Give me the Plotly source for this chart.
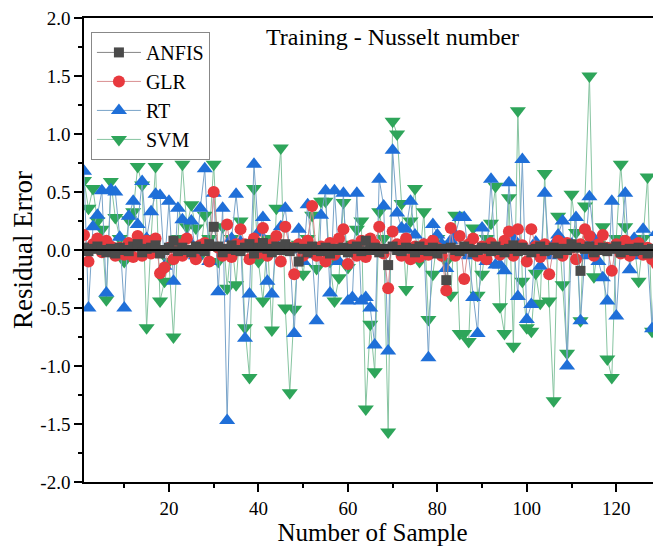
import plotly.graph_objects as go

samples = list(range(1, 131))

anfis = [
    0.02, -0.01, 0.01, 0.03, 0.00, -0.02, 0.01, -0.03, 0.02, 0.00,
    -0.01, 0.03, 0.05, -0.02, 0.01, 0.02, 0.04, -0.03, 0.00, 0.02,
    0.08, -0.01, 0.02, 0.00, -0.02, 0.03, 0.01, -0.01, 0.05, 0.20,
    0.03, -0.02, 0.01, 0.04, 0.00, -0.01, 0.02, 0.05, -0.03, 0.02,
    0.06, 0.01, -0.02, 0.03, 0.00, 0.05, -0.01, 0.02, -0.10, 0.01,
    -0.02, 0.03, 0.00, -0.01, 0.02, -0.03, 0.01, 0.00, 0.02, -0.02,
    0.01, 0.03, -0.01, 0.08, 0.00, 0.02, -0.02, 0.01, -0.13, 0.03,
    0.00, -0.01, 0.02, 0.01, -0.02, 0.03, 0.00, -0.01, 0.02, -0.03,
    0.01, -0.26, 0.02, 0.00, -0.01, 0.03, 0.01, -0.02, 0.00, 0.02,
    0.01, -0.01, 0.03, 0.00, -0.02, 0.01, 0.04, -0.01, 0.02, 0.00,
    -0.02, 0.01, 0.03, -0.01, 0.00, 0.02, -0.03, 0.01, 0.00, 0.05,
    0.02, -0.18, 0.01, 0.03, -0.02, 0.00, 0.02, -0.01, 0.01, 0.03,
    -0.02, 0.00, 0.01, -0.01, 0.02, 0.00, -0.03, 0.01, -0.02, 0.00,
]

glr = [
    0.13, -0.10, 0.05, 0.10, -0.02, 0.08, 0.03, -0.05, 0.02, -0.04,
    0.06, -0.06, 0.12, -0.05, 0.08, -0.03, 0.10, -0.20, -0.15, 0.02,
    -0.08, 0.05, -0.05, 0.10, -0.02, -0.08, 0.04, 0.06, -0.10, 0.50,
    0.02, -0.05, 0.22, -0.06, 0.05, 0.18, 0.05, -0.08, 0.10, -0.03,
    0.19, -0.05, 0.05, 0.12, -0.10, 0.20, 0.02, -0.21, 0.05, -0.05,
    0.08, 0.38, -0.05, 0.03, -0.10, 0.06, -0.04, 0.10, 0.18, -0.12,
    0.04, -0.05, 0.08, -0.06, 0.10, 0.05, 0.20, -0.03, -0.33, 0.16,
    0.05, -0.05, 0.10, -0.08, 0.03, -0.06, 0.05, -0.04, 0.08, 0.02,
    -0.05, -0.35, 0.19, -0.05, 0.12, -0.25, 0.05, 0.10, -0.05, 0.03,
    -0.08, 0.06, 0.02, -0.04, 0.08, 0.16, -0.05, 0.18, 0.04, -0.10,
    0.18, 0.03, -0.06, 0.05, -0.21, 0.02, 0.08, -0.05, 0.06, 0.02,
    -0.08, 0.05, 0.18, 0.12, -0.05, 0.05, 0.13, 0.02, -0.18, 0.05,
    -0.03, 0.08, -0.05, 0.04, 0.06, -0.04, 0.02, -0.08, -0.12, 0.05,
]

rt = [
    0.68, -0.50, 0.20, 0.30, 0.51, -0.37, 0.52, 0.50, 0.11, -0.50,
    0.29, 0.42, 0.22, 0.59, 0.10, 0.33, 0.48, 0.47, -0.14, 0.42,
    -0.27, 0.36, 0.26, 0.10, 0.25, -0.05, 0.36, 0.70, -0.10, 0.49,
    -0.36, 0.36, -1.47, 0.10, 0.48, 0.07, -0.76, -0.38, 0.74, 0.15,
    0.28, -0.27, -0.38, 0.05, 0.20, 0.36, 0.00, -0.72, 0.18, -0.10,
    0.39, -0.04, -0.61, 0.30, 0.51, -0.37, 0.51, -0.10, 0.49, -0.44,
    -0.41, 0.49, -0.44, -0.41, -0.50, -0.82, 0.61, 0.38, -0.87, 0.86,
    0.32, 0.19, 0.18, 0.42, 0.13, -0.05, 0.05, -0.93, 0.22, 0.13,
    0.05, -0.16, 0.08, 0.13, 0.28, 0.28, -0.05, -0.41, -0.72, 0.19,
    -0.10, 0.61, -0.13, -0.13, -0.18, 0.58, 0.10, -0.40, 0.78, -0.60,
    -0.47, 0.07, -0.14, 0.49, -0.05, 0.05, 0.13, 0.25, -1.00, 0.05,
    0.28, -0.61, -0.05, 0.46, 0.10, -0.10, -0.24, -0.44, 0.42, -0.57,
    0.05, 0.49, -0.17, 0.10, -0.05, 0.18, -0.05, -0.68, 0.15, -0.25,
]

svm = [
    0.60, 0.36, 0.53, 0.25, 0.18, -0.43, 0.59, 0.28, 0.10, -0.10,
    0.26, 0.33, 0.72, 0.56, -0.67, 0.10, 0.72, -0.44, -0.27, -0.10,
    -0.75, 0.10, 0.74, 0.20, 0.39, 0.19, -0.05, 0.30, 0.10, 0.74,
    -0.10, 0.20, -0.33, 0.10, -0.30, 0.25, -0.67, -1.10, 0.53, -0.10,
    -0.44, 0.10, -0.69, 0.36, 0.88, -0.50, -1.23, -0.51, 0.05, -0.21,
    0.10, 0.30, -0.16, 0.42, 0.42, -0.10, -0.44, -0.24, 0.41, -0.15,
    0.05, 0.18, 0.25, -1.37, -0.64, -1.05, 0.33, 0.10, -1.57, 1.11,
    1.00, 0.40, -0.34, 0.25, 0.53, -0.10, 0.33, -0.60, -0.21, 0.10,
    0.05, -0.10, -0.39, 0.30, -0.72, -0.72, -0.79, 0.19, -0.39, -0.21,
    0.10, 0.23, 0.55, -0.49, -0.72, 0.45, -0.83, 1.20, -0.27, -0.67,
    -0.70, -0.20, -0.46, 0.66, -0.44, -1.30, 0.29, -0.30, -0.89, 0.48,
    0.15, -0.61, 0.38, 1.50, -0.23, 0.05, 0.20, -0.94, -1.10, 0.10,
    0.74, 0.20, -0.05, 0.05, -0.27, 0.10, 0.63, -0.70, -0.72, 0.27,
]

series_names = ["ANFIS", "GLR", "RT", "SVM"]
series_values = [anfis, glr, rt, svm]
marker_colors = ["#4a4a4a", "#e8393e", "#1f6fd8", "#2ea55a"]
line_colors = ["#858585", "#d98e90", "#78a3c9", "#86c4a0"]
symbols = ["square", "circle", "triangle-up", "triangle-down"]
sizes = [10, 12, 14, 14]

x_ticks = [20, 40, 60, 80, 100, 120]
y_ticks = [-2.0, -1.5, -1.0, -0.5, 0.0, 0.5, 1.0, 1.5, 2.0]
y_tick_text = ["-2.0", "-1.5", "-1.0", "-0.5", "0.0", "0.5", "1.0", "1.5", "2.0"]

FONT = "Liberation Serif, Times New Roman, serif"

fig = go.Figure()
# draw in reverse so ANFIS sits on top
for k in [3, 2, 1, 0]:
    fig.add_trace(go.Scatter(
        x=samples, y=series_values[k], name=series_names[k],
        mode="lines+markers",
        line=dict(color=line_colors[k], width=1),
        marker=dict(symbol=symbols[k], size=sizes[k], color=marker_colors[k],
                    line=dict(width=0)),
        legendrank=k + 1,
    ))

fig.add_shape(type="line", xref="paper", x0=0, x1=1, yref="y", y0=0, y1=0,
              line=dict(color="black", width=2), layer="above")

fig.update_layout(
    width=661, height=550,
    margin=dict(l=76, r=8, t=10, b=76),
    paper_bgcolor="white", plot_bgcolor="white",
    font=dict(family=FONT, color="black", size=19),
    showlegend=True,
    legend=dict(x=0.012, y=0.97, xanchor="left", yanchor="top",
                bordercolor="#888888", borderwidth=1, bgcolor="white",
                font=dict(family=FONT, size=20), tracegroupgap=0, itemwidth=44),
    annotations=[dict(text="Training - Nusselt number", xref="paper", yref="paper",
                      x=0.535, y=0.96, xanchor="center", yanchor="middle",
                      showarrow=False, font=dict(family=FONT, size=24))],
)

fig.update_xaxes(
    range=[1, 130], tickvals=x_ticks, ticks="outside", ticklen=8, tickwidth=1.5,
    tickcolor="black", showline=True, linecolor="black", linewidth=1.5, mirror=True,
    showgrid=False, zeroline=False, ticklabeloverflow="allow", automargin=False,
    minor=dict(dtick=10, tick0=0, ticks="outside", ticklen=4, tickwidth=1.5, tickcolor="black"),
    title=dict(text="Number of Sample", font=dict(family=FONT, size=25), standoff=2),
    tickfont=dict(family=FONT, size=19),
)
fig.update_yaxes(
    range=[-2.0005, 2.0005], tickvals=y_ticks, ticktext=y_tick_text, ticks="outside", ticklen=8,
    tickwidth=1.5, tickcolor="black", showline=True, linecolor="black", linewidth=1.5,
    mirror=True, showgrid=False, zeroline=False, ticklabeloverflow="allow", automargin=False,
    minor=dict(dtick=0.25, tick0=0, ticks="outside", ticklen=4, tickwidth=1.5, tickcolor="black"),
    title=dict(text="Residual Error", font=dict(family=FONT, size=27), standoff=5),
    tickfont=dict(family=FONT, size=19),
)

fig.write_html("out.html")
